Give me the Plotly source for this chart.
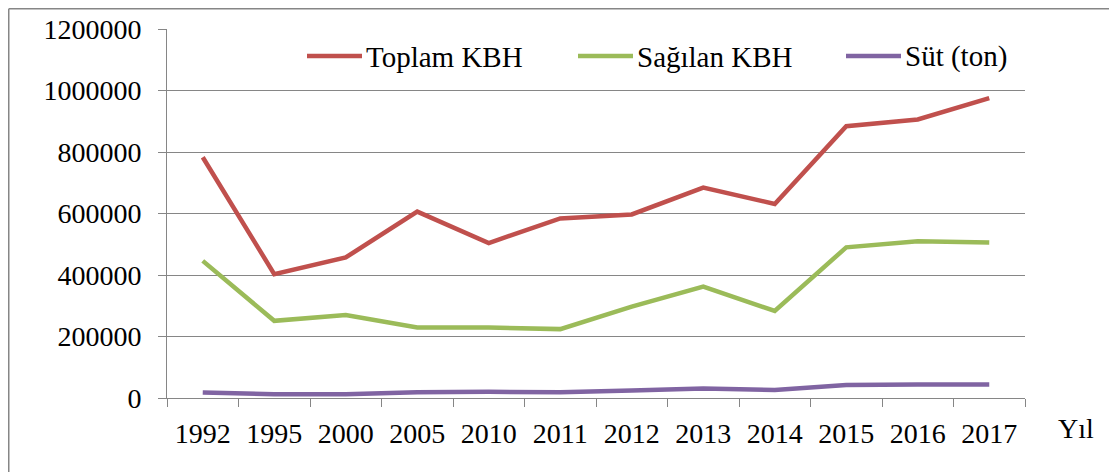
import plotly.graph_objects as go

years = ["1992", "1995", "2000", "2005", "2010", "2011", "2012", "2013", "2014", "2015", "2016", "2017"]
toplam_kbh = [783000, 403000, 457000, 606000, 504000, 584000, 597000, 684000, 631000, 884000, 906000, 975000]
saglanan_kbh = [446000, 251000, 270000, 229000, 229000, 224000, 297000, 362000, 283000, 490000, 510000, 506000]
sut_ton = [18000, 12000, 12000, 19000, 20000, 19000, 24000, 31000, 26000, 42000, 44000, 44000]
y_ticks = [0, 200000, 400000, 600000, 800000, 1000000, 1200000]
series_names = ["Toplam KBH", "Sağılan KBH", "Süt (ton)"]
x_title = "Yıl"

OFF = 8  # default page body margin
WIN_W, WIN_H = 1117, 472
W, H = WIN_W - OFF, WIN_H - OFF
# plot area in window pixels
PX0, PX1, PY0, PY1 = 167, 1025, 29, 398
L, T = PX0 - OFF, PY0 - OFF
R, B = WIN_W - PX1, WIN_H - PY1
pw, ph = PX1 - PX0, PY1 - PY0

def px_x(p):
    return (p - PX0) / pw

def px_y(q):
    return (PY1 - q) / ph

FONT = "Liberation Serif"
FS = 28
FS_LEG = 29
colors = ["#C0504D", "#9BBB59", "#8064A2"]

fig = go.Figure()
for name, vals, c in zip(series_names, [toplam_kbh, saglanan_kbh, sut_ton], colors):
    fig.add_trace(go.Scatter(x=years, y=vals, mode="lines", name=name,
                             line=dict(color=c, width=4.5, shape="linear"),
                             hoverinfo="x+y+name", showlegend=False))

fig.update_layout(
    width=W, height=H,
    margin=dict(l=L, r=R, t=T, b=B, pad=0, autoexpand=False),
    paper_bgcolor="white", plot_bgcolor="white",
    font=dict(family=FONT, size=FS, color="black"),
    showlegend=False,
    xaxis=dict(type="category", range=[-0.5, len(years) - 0.5], showgrid=False,
               showline=True, linecolor="#868686", linewidth=1,
               ticks="outside", ticklen=8, tickcolor="#868686", tickwidth=1,
               tickson="boundaries", tickfont=dict(family=FONT, size=FS, color="black"),
               ticklabelstandoff=10, zeroline=False, fixedrange=True),
    yaxis=dict(range=[0, 1200000], tickvals=y_ticks, ticktext=[str(v) for v in y_ticks],
               showgrid=True, gridcolor="#868686", gridwidth=1,
               showline=True, linecolor="#868686", linewidth=1,
               ticks="outside", ticklen=8, tickcolor="#868686", tickwidth=1,
               tickfont=dict(family=FONT, size=FS, color="black"),
               ticklabelstandoff=11, zeroline=False, fixedrange=True),
)

# legend (drawn manually to match spacing of the original)
leg_x = [307, 578, 846]
leg_y = 56
for name, c, lx in zip(series_names, colors, leg_x):
    fig.add_shape(type="line", xref="paper", yref="paper",
                  x0=px_x(lx), x1=px_x(lx + 55), y0=px_y(leg_y), y1=px_y(leg_y),
                  line=dict(color=c, width=4.5))
    fig.add_annotation(text=name, xref="paper", yref="paper", x=px_x(lx + 57), y=px_y(leg_y + 1),
                       xanchor="left", yanchor="middle", showarrow=False,
                       font=dict(family=FONT, size=FS_LEG, color="black"))

fig.add_annotation(text=x_title, xref="paper", yref="paper", x=px_x(1076), y=px_y(428),
                   xanchor="center", yanchor="middle", showarrow=False,
                   font=dict(family=FONT, size=FS, color="black"))

border = dict(color="#868686", width=1.5)
fig.add_shape(type="line", xref="paper", yref="paper", x0=px_x(OFF + 0.75), x1=px_x(WIN_W + 5),
              y0=px_y(OFF + 0.75), y1=px_y(OFF + 0.75), line=border)
fig.add_shape(type="line", xref="paper", yref="paper", x0=px_x(OFF + 0.75), x1=px_x(OFF + 0.75),
              y0=px_y(OFF + 0.75), y1=px_y(WIN_H + 5), line=border)

fig.write_html("out.html")
